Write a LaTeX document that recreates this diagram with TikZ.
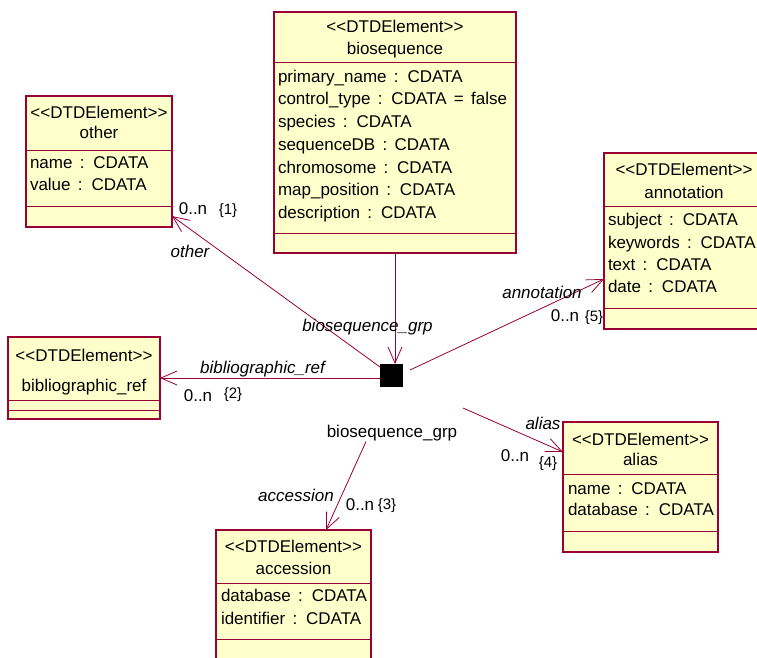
\documentclass[tikz,border=0pt]{standalone}
\usepackage{fontspec}
\setmainfont{Liberation Sans}[Ligatures=TeXOff]
\usetikzlibrary{arrows.meta}
\definecolor{umlline}{HTML}{990033}
\definecolor{umlfill}{HTML}{FFFFCC}
\newcommand\umltext{\fontsize{17}{20}\selectfont\spaceskip 7.3pt\relax}

\begin{document}
\begin{tikzpicture}[x=1pt,y=-1pt,
  every node/.style={inner sep=0pt, outer sep=0pt, font=\umltext},
  classbox/.style={draw=umlline, fill=umlfill, line width=1.2pt, rectangle, anchor=north west},
  sepline/.style={draw=umlline, line width=1pt},
  head/.style={anchor=base},
  attr/.style={anchor=base west},
  role/.style={anchor=base, font=\umltext\itshape},
  mult/.style={anchor=base},
  cons/.style={anchor=base, font=\fontsize{15}{18}\selectfont},
  assoc/.style={draw=umlline, line width=0.8pt, -{Straight Barb[length=16pt,width=14pt]}},
]
\useasboundingbox (0,0) rectangle (757,658);

% ---- biosequence ----
\node[classbox, minimum width=242pt, minimum height=241pt] (bio) at (274,12) {};
\draw[sepline] (274,63) -- (516,63) (274,233) -- (516,233);
\node[head] at (395,33) {<<DTDElement>>};
\node[head] at (395,55) {biosequence};
\node[attr] at (278,83) {primary\_name : CDATA};
\node[attr] at (278,105) {control\_type : CDATA = false};
\node[attr] at (278,128) {species : CDATA};
\node[attr] at (278,150) {sequenceDB : CDATA};
\node[attr] at (278,173) {chromosome : CDATA};
\node[attr] at (278,195) {map\_position : CDATA};
\node[attr] at (278,218) {description : CDATA};

% ---- other ----
\node[classbox, minimum width=146pt, minimum height=131pt] (other) at (26,96) {};
\draw[sepline] (26,150) -- (172,150) (26,206) -- (172,206);
\node[head] at (99,118) {<<DTDElement>>};
\node[head] at (99,139) {other};
\node[attr] at (30,168) {name : CDATA};
\node[attr] at (30,190) {value : CDATA};

% ---- bibliographic_ref ----
\node[classbox, minimum width=152pt, minimum height=82pt] (bib) at (8,337) {};
\draw[sepline] (8,400) -- (160,400) (8,410) -- (160,410);
\node[head] at (84,361) {<<DTDElement>>};
\node[head] at (84,391) {bibliographic\_ref};

% ---- annotation ----
\node[classbox, minimum width=160pt, minimum height=176pt] (ann) at (604,153) {};
\draw[sepline] (604,206) -- (764,206) (604,308) -- (764,308);
\node[head] at (684,175) {<<DTDElement>>};
\node[head] at (684,198) {annotation};
\node[attr] at (608,225) {subject : CDATA};
\node[attr] at (608,248) {keywords : CDATA};
\node[attr] at (608,270) {text : CDATA};
\node[attr] at (608,292) {date : CDATA};

% ---- alias ----
\node[classbox, minimum width=155pt, minimum height=130pt] (alias) at (563,422) {};
\draw[sepline] (563,474) -- (718,474) (563,531) -- (718,531);
\node[head] at (640.5,445) {<<DTDElement>>};
\node[head] at (640.5,465) {alias};
\node[attr] at (568,494) {name : CDATA};
\node[attr] at (568,515) {database : CDATA};

% ---- accession ----
\node[classbox, minimum width=155pt, minimum height=140pt] (acc) at (216,530) {};
\draw[sepline] (216,583) -- (371,583) (216,639) -- (371,639);
\node[head] at (293.5,552) {<<DTDElement>>};
\node[head] at (293.5,574) {accession};
\node[attr] at (221,601) {database : CDATA};
\node[attr] at (221,624) {identifier : CDATA};

% ---- group junction ----
\node[fill=black, minimum size=23pt] (sq) at (391.5,375.5) {};
\node[anchor=base] (grp) at (392,437) {biosequence\_grp};
\coordinate (aliasstart) at (463,408);

% ---- associations ----
\draw[assoc] (bio.south) -- (bio.south |- sq.north);
\draw[assoc] ([yshift=8.5pt]sq.west) -- ([yshift=11pt]other.south east);
\draw[assoc] (bib.east -| sq.west) -- (bib.east);
\draw[assoc] ([shift={(7pt,5.5pt)}]sq.east) -- ([yshift=-38pt]ann.west);
\draw[assoc] (aliasstart) -- ([yshift=35pt]alias.west);
\draw[assoc] ([xshift=-26pt,yshift=-1pt]grp.south) -- ([xshift=32.5pt]acc.north);

% ---- labels ----
\node[role] at (367.5,331) {biosequence\_grp};
\node[role] at (190,257) {other};
\node[mult] at (193,214) {0..n};
\node[cons] at (228,214) {\{1\}};
\node[role] at (262.5,373) {bibliographic\_ref};
\node[mult] at (198,401) {0..n};
\node[cons] at (233,398) {\{2\}};
\node[role] at (542,298) {annotation};
\node[mult] at (565,321) {0..n};
\node[cons] at (594,321) {\{5\}};
\node[role] at (543,429) {alias};
\node[mult] at (515,461) {0..n};
\node[cons] at (548,467) {\{4\}};
\node[role] at (296,501) {accession};
\node[mult] at (360,510) {0..n};
\node[cons] at (387,509) {\{3\}};
\end{tikzpicture}
\end{document}
